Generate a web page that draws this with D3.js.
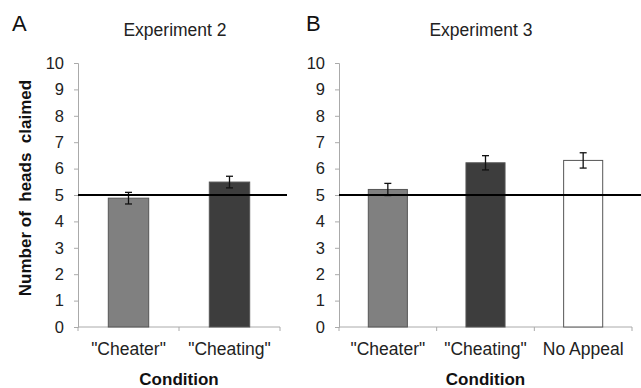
<!DOCTYPE html>
<html>
<head>
<meta charset="utf-8">
<script src="https://cdn.jsdelivr.net/npm/d3@7"></script>
<style>
  body { margin: 0; background: #fff; }
  svg { font-family: "Liberation Sans", Arial, Helvetica, sans-serif; }
</style>
</head>
<body>
<div id="chart"></div>
<script>
// values
const exp2Conditions = ['"Cheater"', '"Cheating"'];
const exp2Means = [4.88, 5.49];
const exp2Errors = [0.22, 0.22];

const exp3Conditions = ['"Cheater"', '"Cheating"', 'No Appeal'];
const exp3Means = [5.21, 6.22, 6.31];
const exp3Errors = [0.23, 0.27, 0.29];

const yTicks = [0, 1, 2, 3, 4, 5, 6, 7, 8, 9, 10];
const chanceLevel = 5;

const barFill = {'"Cheater"': '#808080', '"Cheating"': '#3d3d3d', 'No Appeal': '#ffffff'};

const width = 641, height = 388;
const svg = d3.select('#chart').append('svg')
    .attr('width', width)
    .attr('height', height);

const y = d3.scaleLinear().domain([0, 10]).range([327, 63]);

function drawPanel(opts) {
    const g = svg.append('g');
    const x = d3.scaleBand()
        .domain(opts.conditions)
        .range([opts.x0, opts.x1])
        .paddingInner(0.6)
        .paddingOuter(0.3);

    // y axis
    const yAxis = d3.axisLeft(y).tickValues(yTicks).tickSize(4).tickPadding(10);
    const ya = g.append('g')
        .attr('transform', 'translate(' + opts.x0 + ',0)')
        .call(yAxis);
    ya.select('.domain').attr('stroke', '#aaa');
    ya.selectAll('.tick line').attr('stroke', '#aaa');
    ya.selectAll('.tick text').attr('font-size', 16.5).attr('fill', '#222');

    // x axis with separator ticks between categories
    const xa = g.append('g').attr('transform', 'translate(0,' + y(0) + ')');
    xa.append('line')
        .attr('x1', opts.x0).attr('x2', opts.x1)
        .attr('stroke', '#aaa');
    const step = (opts.x1 - opts.x0) / opts.conditions.length;
    xa.selectAll('.sep')
        .data(d3.range(opts.conditions.length + 1))
        .join('line')
        .attr('x1', i => opts.x0 + i * step)
        .attr('x2', i => opts.x0 + i * step)
        .attr('y1', 0).attr('y2', 4)
        .attr('stroke', '#aaa');
    xa.selectAll('.lab')
        .data(opts.conditions)
        .join('text')
        .attr('x', d => x(d) + x.bandwidth() / 2)
        .attr('y', 28)
        .attr('text-anchor', 'middle')
        .attr('font-size', 17.5)
        .attr('fill', '#222')
        .text(d => d);

    // bars
    g.selectAll('rect.bar')
        .data(opts.conditions)
        .join('rect')
        .attr('class', 'bar')
        .attr('x', d => x(d))
        .attr('width', x.bandwidth())
        .attr('y', (d, i) => y(opts.means[i]))
        .attr('height', (d, i) => y(0) - y(opts.means[i]))
        .attr('fill', d => barFill[d])
        .attr('stroke', '#555')
        .attr('stroke-width', 1);

    // error bars
    const eb = g.selectAll('g.err')
        .data(opts.conditions)
        .join('g')
        .attr('stroke', '#111')
        .attr('stroke-width', 1.3);
    eb.append('line')
        .attr('x1', d => x(d) + x.bandwidth() / 2)
        .attr('x2', d => x(d) + x.bandwidth() / 2)
        .attr('y1', (d, i) => y(opts.means[i] + opts.errors[i]))
        .attr('y2', (d, i) => y(opts.means[i] - opts.errors[i]));
    [1, -1].forEach(s => {
        eb.append('line')
            .attr('x1', d => x(d) + x.bandwidth() / 2 - 3.5)
            .attr('x2', d => x(d) + x.bandwidth() / 2 + 3.5)
            .attr('y1', (d, i) => y(opts.means[i] + s * opts.errors[i]))
            .attr('y2', (d, i) => y(opts.means[i] + s * opts.errors[i]));
    });

    // chance line
    g.append('line')
        .attr('x1', opts.x0).attr('x2', opts.lineEnd)
        .attr('y1', y(chanceLevel)).attr('y2', y(chanceLevel))
        .attr('stroke', '#000')
        .attr('stroke-width', 2);

    // panel letter + title
    g.append('text')
        .attr('x', opts.letterX).attr('y', 31)
        .attr('font-size', 22)
        .attr('fill', '#111')
        .text(opts.letter);
    g.append('text')
        .attr('x', opts.titleX).attr('y', 36)
        .attr('text-anchor', 'middle')
        .attr('font-size', 17.5)
        .attr('fill', '#222')
        .text(opts.title);

    // x axis title
    g.append('text')
        .attr('x', (opts.x0 + opts.x1) / 2).attr('y', 385)
        .attr('text-anchor', 'middle')
        .attr('font-size', 17)
        .attr('font-weight', 'bold')
        .attr('fill', '#111')
        .text('Condition');
}

drawPanel({
    conditions: exp2Conditions, means: exp2Means, errors: exp2Errors,
    x0: 78, x1: 280, lineEnd: 287,
    letter: 'A', letterX: 12, title: 'Experiment 2', titleX: 175
});
drawPanel({
    conditions: exp3Conditions, means: exp3Means, errors: exp3Errors,
    x0: 339, x1: 632, lineEnd: 641,
    letter: 'B', letterX: 306, title: 'Experiment 3', titleX: 481
});

// shared y axis title
svg.append('text')
    .attr('transform', 'translate(31,' + 188 + ') rotate(-90)')
    .attr('text-anchor', 'middle')
    .attr('font-size', 17)
    .attr('font-weight', 'bold')
    .attr('fill', '#111')
    .attr('xml:space', 'preserve')
    .style('white-space', 'pre')
    .text('Number of  heads  claimed');
</script>
</body>
</html>
